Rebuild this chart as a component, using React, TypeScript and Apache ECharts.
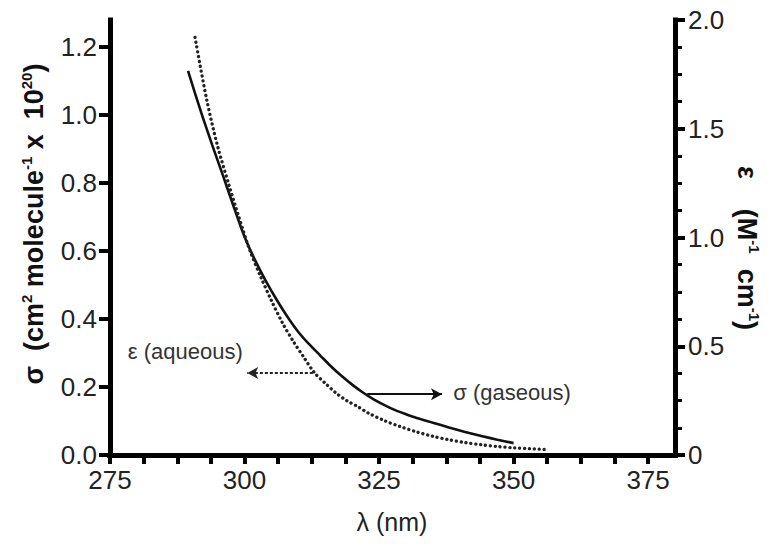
import React, { useEffect, useRef } from 'react';
import * as echarts from 'echarts';

// σ (gaseous), left axis
const sigmaX = [289.5, 292, 294, 296, 298, 300, 302, 304, 306, 308, 310, 312, 314, 316, 318, 320, 322, 324, 326, 328, 330, 332, 335, 338, 341, 344, 347, 350];
const sigmaY = [1.13, 1.005, 0.912, 0.822, 0.73, 0.642, 0.572, 0.511, 0.456, 0.406, 0.362, 0.326, 0.294, 0.262, 0.233, 0.207, 0.184, 0.164, 0.147, 0.132, 0.12, 0.109, 0.095, 0.081, 0.068, 0.056, 0.045, 0.035];

// ε (aqueous), right axis
const epsX = [290.8, 293, 295, 297, 299, 301, 303, 305, 307, 309, 311, 313, 315, 317, 319, 321, 323, 326, 329, 332, 335, 338, 341, 344, 347, 350, 353, 356];
const epsY = [1.92, 1.63, 1.42, 1.25, 1.09, 0.94, 0.82, 0.71, 0.61, 0.525, 0.45, 0.378, 0.33, 0.285, 0.25, 0.223, 0.193, 0.158, 0.13, 0.106, 0.086, 0.07, 0.057, 0.047, 0.039, 0.033, 0.029, 0.025];

const xLabelValues = [275, 300, 325, 350, 375];
const xTickValues = [275, 281.25, 287.5, 293.75, 300, 306.25, 312.5, 318.75, 325, 331.25, 337.5, 343.75, 350, 356.25, 362.5, 368.75, 375];
const leftTickValues = [0, 0.2, 0.4, 0.6, 0.8, 1.0, 1.2];

const FONT = '"Liberation Sans", Arial, sans-serif';

export default function App() {
  const ref = useRef<HTMLDivElement>(null);
  useEffect(() => {
    if (!ref.current) return;
    const chart = echarts.init(ref.current, undefined, { renderer: 'svg' });
    const axisColor = '#000';
    const labelStyle = { fontSize: 26, color: '#222', fontFamily: FONT };
    const titleRich = {
      t: { fontSize: 27, fontWeight: 'bold', fontFamily: FONT, fill: '#111', lineHeight: 30 },
      s: { fontSize: 15, fontWeight: 'bold', fontFamily: FONT, fill: '#111', lineHeight: 15, verticalAlign: 'top' },
    };
    chart.setOption({
      animation: false,
      backgroundColor: '#fff',
      grid: { left: 110, right: 97, top: 20, bottom: 93, containLabel: false },
      xAxis: [
        {
          type: 'value', min: 275, max: 380, position: 'bottom',
          axisLine: { show: true, lineStyle: { color: axisColor, width: 5, cap: 'square' } },
          axisTick: { show: true, customValues: xTickValues, length: 9, lineStyle: { color: axisColor, width: 4 } },
          axisLabel: { customValues: xLabelValues, margin: 12, ...labelStyle },
          splitLine: { show: false },
        },
        {
          type: 'value', min: 275, max: 380, position: 'top',
          axisLine: { show: true, lineStyle: { color: axisColor, width: 5, cap: 'square' } },
          axisTick: { show: false }, axisLabel: { show: false }, splitLine: { show: false },
        },
      ],
      yAxis: [
        {
          type: 'value', min: 0, max: 1.28, position: 'left',
          axisLine: { show: true, lineStyle: { color: axisColor, width: 5, cap: 'square' } },
          axisTick: { show: true, customValues: leftTickValues, length: 11, lineStyle: { color: axisColor, width: 4 } },
          axisLabel: { customValues: leftTickValues, margin: 13, formatter: (v: number) => v.toFixed(1), ...labelStyle },
          splitLine: { show: false },
        },
        {
          type: 'value', min: 0, max: 2, interval: 0.5, position: 'right',
          axisLine: { show: true, lineStyle: { color: axisColor, width: 5, cap: 'square' } },
          axisTick: { show: true, length: 10, lineStyle: { color: axisColor, width: 4 } },
          minorTick: { show: true, splitNumber: 4, length: 7, lineStyle: { color: axisColor, width: 3 } },
          axisLabel: { margin: 13, formatter: (v: number) => (v === 0 ? '0' : v.toFixed(1)), ...labelStyle },
          splitLine: { show: false }, minorSplitLine: { show: false },
        },
      ],
      series: [
        {
          name: 'σ (gaseous)', type: 'line', xAxisIndex: 0, yAxisIndex: 0,
          data: sigmaX.map((x, i) => [x, sigmaY[i]]),
          showSymbol: false, smooth: 0.3,
          lineStyle: { color: '#111', width: 2.6 },
          markLine: {
            silent: true, symbol: ['none', 'arrow'], symbolSize: [9, 11],
            label: { show: false },
            lineStyle: { color: '#111', width: 2, type: 'solid' },
            data: [[{ coord: [322.8, 0.179] }, { coord: [336.7, 0.179] }]],
          },
          markPoint: {
            silent: true,
            data: [{
              coord: [338.8, 0.185], symbol: 'circle', symbolSize: 0,
              label: { show: true, position: 'right', distance: 0, formatter: 'σ (gaseous)', fontSize: 22, color: '#333', fontFamily: FONT },
            }],
          },
        },
        {
          name: 'ε (aqueous)', type: 'line', xAxisIndex: 0, yAxisIndex: 1,
          data: epsX.map((x, i) => [x, epsY[i]]),
          showSymbol: false, smooth: 0.3,
          lineStyle: { color: '#222', width: 3.3, type: [0.1, 4.8], cap: 'round' },
          markLine: {
            silent: true, symbol: ['none', 'arrow'], symbolSize: [9, 11],
            label: { show: false },
            lineStyle: { color: '#222', width: 2, type: [3, 2] },
            data: [[{ coord: [312.7, 0.377] }, { coord: [300.5, 0.377] }]],
          },
          markPoint: {
            silent: true,
            data: [{
              coord: [278.3, 0.474], symbol: 'circle', symbolSize: 0,
              label: { show: true, position: 'right', distance: 0, formatter: 'ε (aqueous)', fontSize: 22, color: '#333', fontFamily: FONT },
            }],
          },
        },
      ],
      graphic: [
        {
          type: 'text', x: 34, y: 224, rotation: Math.PI / 2,
          style: {
            text: '{t|σ  (cm}{s|2}{t| molecule}{s|-1}{t| x  10}{s|20}{t|)}',
            align: 'center', verticalAlign: 'middle', rich: titleRich,
          },
        },
        {
          type: 'text', x: 747, y: 248, rotation: -Math.PI / 2,
          style: {
            text: '{t|ε    (M}{s|-1}{t|  cm}{s|-1}{t|)}',
            align: 'center', verticalAlign: 'middle', rich: titleRich,
          },
        },
        {
          type: 'text', x: 392, y: 522,
          style: { text: 'λ (nm)', align: 'center', verticalAlign: 'middle', fontSize: 25, fontFamily: FONT, fill: '#222' },
        },
      ],
    });
    return () => chart.dispose();
  }, []);
  return <div ref={ref} style={{ position: 'fixed', left: 0, top: 0, width: 772, height: 548 }} />;
}
